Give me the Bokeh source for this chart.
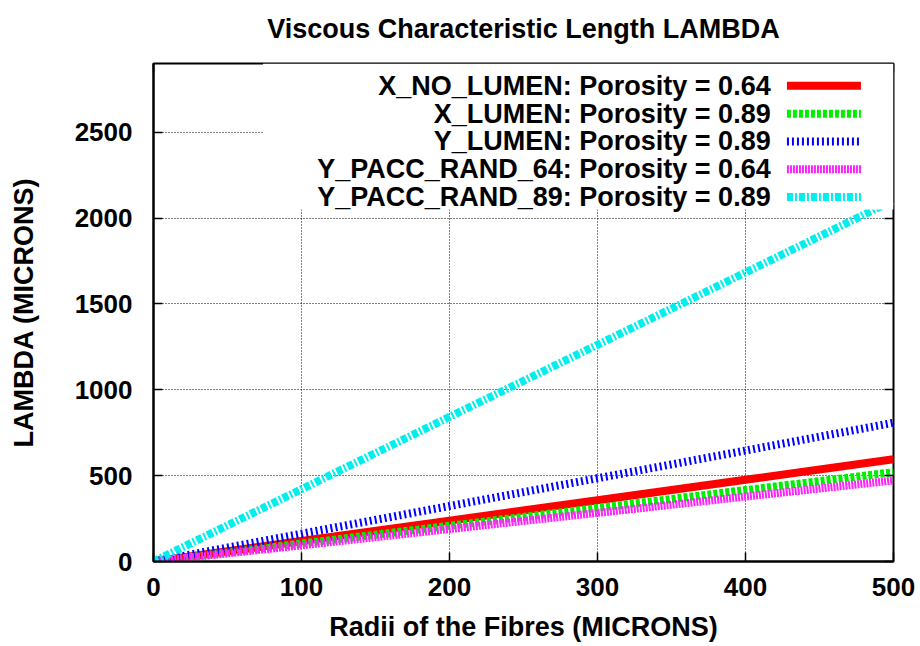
from bokeh.plotting import figure
from bokeh.models import (Range1d, LinearAxis, FixedTicker, BoxAnnotation, Label,
                          Arrow, ColumnDataSource, CustomLabelingPolicy)
from bokeh.embed import file_html
from bokeh.resources import INLINE

# ---------------- data ----------------
radii = [0, 100, 200, 300, 400, 500]
x_no_lumen = [0, 119, 238, 357, 476, 595]
x_lumen = [0, 104, 208, 312, 416, 520]
y_lumen = [0, 162, 323, 485, 646, 808]
y_pacc_rand_64 = [0, 94, 189, 283, 378, 472]
y_pacc_rand_89 = [0, 421, 842, 1262, 1683, 2104]

series_names = ["X_NO_LUMEN", "X_LUMEN", "Y_LUMEN", "Y_PACC_RAND_64", "Y_PACC_RAND_89"]
porosities = ["0.64", "0.89", "0.89", "0.64", "0.89"]
x_ticks = [0, 100, 200, 300, 400, 500]
y_ticks = [0, 500, 1000, 1500, 2000, 2500]

# ---------------- styles ----------------
FONT = "Liberation Sans"
colors = ["#ff0000", "#00ee00", "#0000ff", "#ff22ff", "#00eeee"]
dashes = ["solid", "4 2", "2 3", "2 1", "6 2 2 2"]

p = figure(width=920, height=646, x_range=Range1d(0, 500), y_range=Range1d(0, 2900),
           output_backend="svg", toolbar_location=None,
           title="Viscous Characteristic Length LAMBDA",
           min_border_left=153, min_border_right=27, min_border_top=63, min_border_bottom=85)
p.background_fill_color = "white"
p.border_fill_color = "white"
p.outline_line_color = "black"
p.outline_line_width = 2

p.title.text_font = FONT
p.title.text_font_size = "27px"
p.title.text_font_style = "bold"
p.title.text_color = "black"
p.title.align = "center"
p.title.vertical_align = "top"
p.title.standoff = 27

for ax in (p.xaxis[0], p.yaxis[0]):
    ax.axis_line_color = "black"
    ax.axis_line_width = 2
    ax.major_tick_in = 9
    ax.major_tick_out = 0
    ax.major_tick_line_width = 1.5
    ax.minor_tick_line_color = None
    ax.major_label_text_font = FONT
    ax.major_label_text_font_size = "26px"
    ax.major_label_text_font_style = "bold"
    ax.major_label_text_color = "black"
    ax.axis_label_text_font = FONT
    ax.axis_label_text_font_size = "27px"
    ax.axis_label_text_font_style = "bold"
    ax.axis_label_text_color = "black"

p.xaxis[0].ticker = FixedTicker(ticks=x_ticks)
p.yaxis[0].ticker = FixedTicker(ticks=y_ticks)
p.xaxis[0].axis_label = "Radii of the Fibres (MICRONS)"
p.yaxis[0].axis_label = "LAMBDA (MICRONS)"
p.xaxis[0].major_label_standoff = 16
p.xaxis[0].axis_label_standoff = 13
p.yaxis[0].major_label_standoff = 21
p.yaxis[0].axis_label_standoff = 33

# mirrored ticks on top and right (no labels)
no_labels = CustomLabelingPolicy(code="return []")
top_ax = LinearAxis(ticker=FixedTicker(ticks=x_ticks), major_tick_in=9, major_tick_out=0,
                    major_tick_line_width=1.5, minor_tick_line_color=None,
                    axis_line_color=None, major_label_text_font_size="1px",
                    major_label_standoff=0, major_label_policy=no_labels)
right_ax = LinearAxis(ticker=FixedTicker(ticks=y_ticks), major_tick_in=9, major_tick_out=0,
                      major_tick_line_width=1.5, minor_tick_line_color=None,
                      axis_line_color=None, major_label_text_font_size="1px",
                      major_label_standoff=0, major_label_policy=no_labels)
p.add_layout(top_ax, "above")
p.add_layout(right_ax, "right")

for g in (p.xgrid[0], p.ygrid[0]):
    g.grid_line_color = "black"
    g.grid_line_width = 1
    g.grid_line_dash = "1 2"
p.xgrid[0].ticker = FixedTicker(ticks=x_ticks[1:-1])
p.ygrid[0].ticker = FixedTicker(ticks=y_ticks[1:])

series = [x_no_lumen, x_lumen, y_lumen, y_pacc_rand_64, y_pacc_rand_89]
for ys, c, d in zip(series, colors, dashes):
    src = ColumnDataSource(dict(x=radii, y=ys))
    p.line("x", "y", source=src, line_color=c, line_width=8, line_dash=d,
           line_cap="butt", line_join="miter")

# opaque key area (gnuplot-style key, text right-aligned, sample on the right)
p.add_layout(BoxAnnotation(left=74, right=500, bottom=2050, top=2900,
                           fill_color="white", fill_alpha=1.0, line_alpha=0))

KEY_TEXT_X = 417
KEY_SAMPLE_X0 = 428
KEY_SAMPLE_X1 = 478
KEY_ROW_Y = [2770, 2608, 2446, 2284, 2122]
for name, por, yy, c, d in zip(series_names, porosities, KEY_ROW_Y, colors, dashes):
    p.add_layout(Label(x=KEY_TEXT_X, y=yy, text=f"{name}: Porosity = {por}",
                       text_align="right", text_baseline="middle",
                       text_font=FONT, text_font_size="27px",
                       text_font_style="bold", text_color="black"))
    p.add_layout(Arrow(x_start=KEY_SAMPLE_X0, y_start=yy, x_end=KEY_SAMPLE_X1, y_end=yy,
                       end=None, line_color=c, line_width=8, line_dash=d,
                       line_cap="butt"))

open("out.html", "w").write(file_html(p, INLINE))
